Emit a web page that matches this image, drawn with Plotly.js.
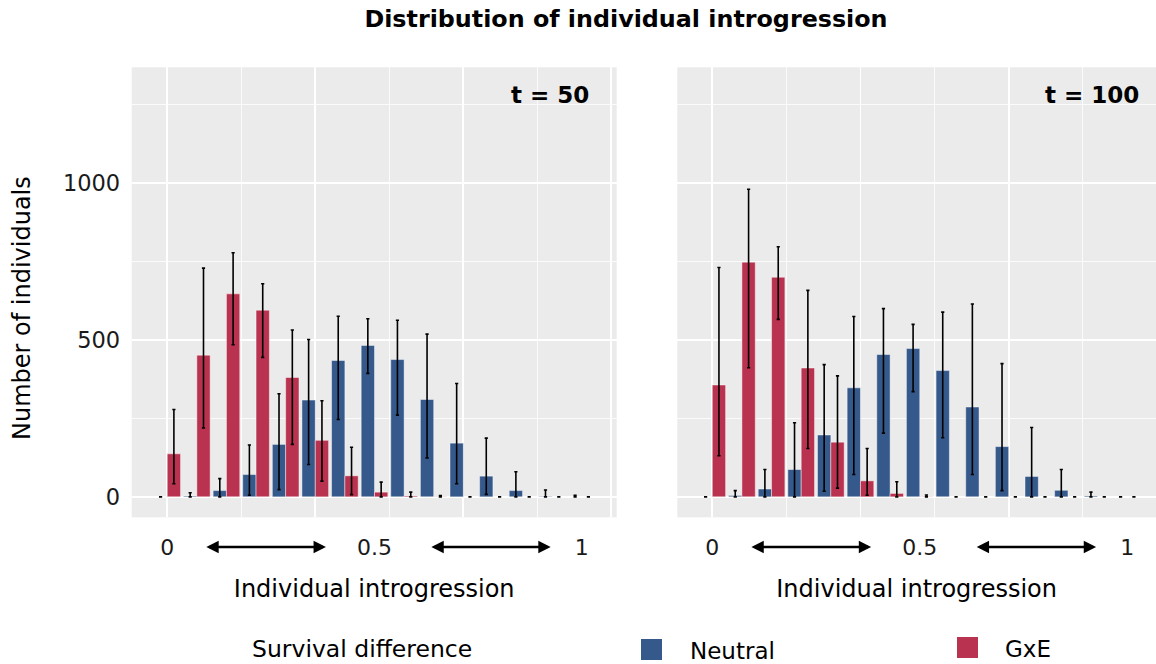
<!DOCTYPE html>
<html>
<head>
<meta charset="utf-8">
<script src="https://cdn.plot.ly/plotly-3.0.1.min.js"></script>
<style>html,body{margin:0;padding:0;background:#fff;}#chart{width:1156px;height:664px;}</style>
</head>
<body>
<div id="chart"></div>
<script>
// bin index (0 .. 14) along individual introgression 0 .. 1
const bins = [0,1,2,3,4,5,6,7,8,9,10,11,12,13,14];
const tickVals = [0, 7, 14];
const tickText = ['0', '0.5', '1'];

// t = 50
const neutral50      = [0, 3, 20, 71, 167, 308, 434, 482, 437, 310, 171, 66, 20, 2, 0];
const neutral50Hi    = [0, 13, 58, 165, 328, 501, 575, 567, 562, 518, 361, 187, 80, 22, 5];
const neutral50Lo    = [0, 0, 0, 5, 23, 103, 246, 393, 260, 124, 42, 8, 0, 0, 0];
const gxe50          = [137, 451, 646, 594, 380, 180, 67, 15, 3, 1, 0, 0, 0, 0, 0];
const gxe50Hi        = [278, 728, 777, 678, 531, 306, 158, 47, 15, 4, 0, 0, 0, 0, 0];
const gxe50Lo        = [42, 219, 484, 444, 167, 50, 7, 0, 0, 0, 0, 0, 0, 0, 0];

// t = 100
const neutral100     = [0, 4, 25, 87, 197, 347, 453, 472, 402, 286, 160, 65, 21, 3, 0];
const neutral100Hi   = [0, 20, 87, 236, 421, 574, 599, 549, 588, 614, 424, 221, 87, 15, 0];
const neutral100Lo   = [0, 0, 0, 0, 18, 71, 203, 335, 188, 71, 20, 0, 0, 0, 0];
const gxe100         = [356, 747, 699, 410, 174, 51, 11, 1, 0, 0, 0, 0, 0, 0, 0];
const gxe100Hi       = [730, 979, 796, 657, 385, 154, 48, 6, 0, 0, 0, 0, 0, 0, 0];
const gxe100Lo       = [131, 411, 565, 154, 28, 5, 0, 0, 0, 0, 0, 0, 0, 0, 0];

const seriesNames = ['Neutral', 'GxE'];
const colors = ['#36598C', '#B9324F'];

const FONT = 'DejaVu Sans, Verdana, sans-serif';

function barTrace(vals, hi, lo, name, color, xa, ya) {
  return {
    type: 'bar', x: bins, y: vals, name: name, xaxis: xa, yaxis: ya,
    showlegend: false,
    marker: {color: color, line: {color: 'rgba(255,255,255,0.45)', width: 1}},
    error_y: {
      type: 'data', symmetric: false,
      array: hi.map((h, i) => h - vals[i]),
      arrayminus: vals.map((v, i) => v - lo[i]),
      color: '#000', thickness: 1.6, width: 1.6
    }
  };
}
// empty carrier so the label axes get drawn
function labelCarrier(xa, ya) {
  return {type: 'scatter', mode: 'markers', x: tickVals, y: tickVals.map(() => null),
          xaxis: xa, yaxis: ya, showlegend: false, hoverinfo: 'skip'};
}

const data = [
  barTrace(neutral50, neutral50Hi, neutral50Lo, seriesNames[0], colors[0], 'x', 'y'),
  barTrace(gxe50, gxe50Hi, gxe50Lo, seriesNames[1], colors[1], 'x', 'y'),
  barTrace(neutral100, neutral100Hi, neutral100Lo, seriesNames[0], colors[0], 'x2', 'y2'),
  barTrace(gxe100, gxe100Hi, gxe100Lo, seriesNames[1], colors[1], 'x2', 'y2'),
  labelCarrier('x3', 'y'),
  labelCarrier('x4', 'y2')
];

const W = 1156, H = 664;
const yDom = [(H - 517.3) / H, (H - 67.3) / H];
const x1Dom = [131.7 / W, 616.7 / W];
const x2Dom = [677.3 / W, 1];
const x1Range = [-1.2, 15.18];
const x2Range = [-1.18, 14.97];
const yRange = [-65, 1367];

function gridX(dom, range, anchor) {
  return {
    domain: dom, range: range, anchor: anchor, showticklabels: false, ticks: '',
    tick0: 0, dtick: 5, showgrid: true, gridcolor: '#FFFFFF', gridwidth: 1.8,
    minor: {tick0: 0, dtick: 2.5, showgrid: true, gridcolor: '#FFFFFF', gridwidth: 0.8},
    zeroline: false, showline: false
  };
}
function labelX(dom, range, overlay, anchor) {
  return {
    domain: dom, range: range, overlaying: overlay, anchor: anchor, side: 'bottom',
    tickmode: 'array', tickvals: tickVals, ticktext: tickText,
    ticks: 'outside', ticklen: 10, tickcolor: 'rgba(0,0,0,0)',
    showgrid: false, zeroline: false, showline: false,
    tickfont: {family: FONT, size: 22, color: '#1a1a1a'},
    title: {text: 'Individual introgression', standoff: 21, font: {family: FONT, size: 24, color: '#000'}}
  };
}
function yAx(showLabels, anchor) {
  return {
    domain: yDom, range: yRange, anchor: anchor,
    tick0: 0, dtick: 500, showgrid: true, gridcolor: '#FFFFFF', gridwidth: 1.8,
    minor: {tick0: 0, dtick: 250, showgrid: true, gridcolor: '#FFFFFF', gridwidth: 0.8},
    zeroline: false, showline: false, showticklabels: showLabels,
    ticks: showLabels ? 'outside' : '', ticklen: 6, tickcolor: 'rgba(0,0,0,0)',
    tickfont: {family: FONT, size: 22.5, color: '#1a1a1a'}
  };
}

function arrow(xref, head, tail) {
  return {
    xref: xref, yref: 'paper', x: head, y: (H - 547) / H,
    axref: xref, ax: tail, ayref: 'pixel', ay: 0,
    text: '', showarrow: true, arrowhead: 2, startarrowhead: 2,
    arrowside: 'end+start', arrowsize: 0.95, startarrowsize: 0.95, arrowwidth: 2.6, arrowcolor: '#000'
  };
}

const layout = {
  width: W, height: H,
  margin: {l: 0, r: 0, t: 0, b: 0},
  paper_bgcolor: '#FFFFFF', plot_bgcolor: '#EBEBEB',
  barmode: 'group', bargap: 0.1, bargroupgap: 0,
  font: {family: FONT, color: '#000'},
  title: {text: '<b>Distribution of individual introgression</b>', x: 626 / W, xref: 'paper', xanchor: 'center',
          y: 1 - 19 / H, yref: 'paper', yanchor: 'middle', font: {family: FONT, size: 23.8, color: '#000'}},
  xaxis: gridX(x1Dom, x1Range, 'y'),
  xaxis2: gridX(x2Dom, x2Range, 'y2'),
  xaxis3: labelX(x1Dom, x1Range, 'x', 'y'),
  xaxis4: labelX(x2Dom, x2Range, 'x2', 'y2'),
  yaxis: yAx(true, 'x'),
  yaxis2: yAx(false, 'x2'),
  annotations: [
    {xref: 'paper', yref: 'paper', x: 22 / W, y: (H - 308) / H, xanchor: 'center', yanchor: 'middle',
     textangle: -90, text: 'Number of individuals', showarrow: false, font: {family: FONT, size: 24, color: '#000'}},
    {xref: 'x domain', yref: 'paper', x: (591 - 131.7) / 485, y: (H - 95) / H, xanchor: 'right', yanchor: 'middle',
     text: '<b>t = 50</b>', showarrow: false, font: {family: FONT, size: 23, color: '#000'}},
    {xref: 'x2 domain', yref: 'paper', x: (1140 - 677.3) / 478, y: (H - 95) / H, xanchor: 'right', yanchor: 'middle',
     text: '<b>t = 100</b>', showarrow: false, font: {family: FONT, size: 23, color: '#000'}},
    arrow('x', 5.36, 1.27), arrow('x', 12.95, 8.87),
    arrow('x2', 5.36, 1.27), arrow('x2', 12.95, 8.87),
    {xref: 'paper', yref: 'paper', x: 250 / W, y: (H - 649) / H, xanchor: 'left', yanchor: 'middle',
     text: 'Survival difference', showarrow: false, font: {family: FONT, size: 23.5, color: '#000'}},
    {xref: 'paper', yref: 'paper', x: 688 / W, y: (H - 651) / H, xanchor: 'left', yanchor: 'middle',
     text: seriesNames[0], showarrow: false, font: {family: FONT, size: 23, color: '#000'}},
    {xref: 'paper', yref: 'paper', x: 1003 / W, y: (H - 649) / H, xanchor: 'left', yanchor: 'middle',
     text: seriesNames[1], showarrow: false, font: {family: FONT, size: 23, color: '#000'}}
  ],
  shapes: [
    {type: 'rect', xref: 'paper', yref: 'paper', x0: 641 / W, x1: 662 / W, y0: (H - 660) / H, y1: (H - 639) / H,
     fillcolor: colors[0], line: {width: 0}},
    {type: 'rect', xref: 'paper', yref: 'paper', x0: 957 / W, x1: 978 / W, y0: (H - 658) / H, y1: (H - 637) / H,
     fillcolor: colors[1], line: {width: 0}}
  ]
};

Plotly.newPlot('chart', data, layout, {displayModeBar: false, staticPlot: true});
</script>
</body>
</html>
